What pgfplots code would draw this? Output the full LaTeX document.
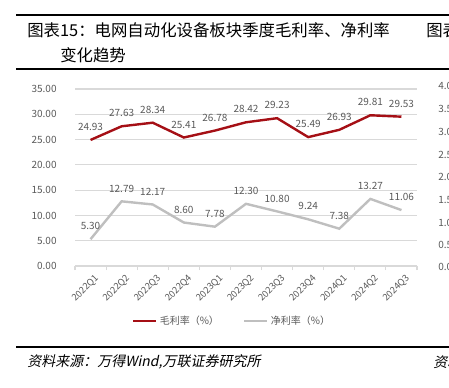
\documentclass[border=0pt]{standalone}
\usepackage{pgfplots}
\pgfplotsset{compat=1.18}
\usepackage{fontspec}
\setmainfont{Noto Sans CJK SC}
\newfontfamily\kai[FakeSlant=0.2]{Noto Sans CJK SC}
\definecolor{redl}{HTML}{A50F15}
\definecolor{grayl}{HTML}{BFBFBF}
\definecolor{gridc}{HTML}{D9D9D9}
\definecolor{txt}{HTML}{595959}
\begin{document}
\begin{tikzpicture}
\begin{scope}[x=0.75pt,y=-0.75pt]
\path[use as bounding box] (0,0) rectangle (449,387);
\draw[line width=1.6pt] (16,15) -- (449,15);
\draw[line width=1.6pt] (16,69) -- (449,69);
\draw[line width=1.6pt] (16,347) -- (449,347);
\node[anchor=west, inner sep=0, font=\fontsize{12.3}{14}\selectfont] at (27,30) {图表15：电网自动化设备板块季度毛利率、净利率};
\node[anchor=west, inner sep=0, font=\fontsize{12.3}{14}\selectfont] at (60,55) {变化趋势};
\node[anchor=west, inner sep=0, font=\fontsize{12.3}{14}\selectfont] at (426,30) {图表16};
\node[anchor=west, inner sep=0, font=\kai\fontsize{10.5}{12}\selectfont] at (27,362) {资料来源：万得Wind,万联证券研究所};
\node[anchor=west, inner sep=0, font=\kai\fontsize{10.5}{12}\selectfont] at (433,362) {资料来源};
\foreach \yy/\lab in {86/4.00,109/3.50,132/3.00,155/2.50,177/2.00,200/1.50,223/1.00,245/0.50,267/0.00}
  \node[anchor=west, inner sep=0, text=txt, font=\fontsize{7.5}{9}\selectfont] at (438,\yy) {\lab};
\end{scope}
\begin{axis}[
  at={(56.25pt,-199.5pt)}, anchor=south west, scale only axis,
  width=256.5pt, height=132.75pt,
  xmin=-0.5, xmax=10.5, ymin=0, ymax=35,
  separate axis lines,
  axis x line*=bottom, axis y line*=left,
  y axis line style={draw=none},
  x axis line style={gridc, line width=0.8pt},
  ytick={0,5,...,35},
  y tick style={draw=none},
  ymajorgrids, grid style={gridc, line width=0.8pt},
  xtick={0,...,10},
  xticklabels={2022Q1,2022Q2,2022Q3,2022Q4,2023Q1,2023Q2,2023Q3,2023Q4,2024Q1,2024Q2,2024Q3},
  x tick style={draw=none},
  minor xtick={-0.5,0.5,...,10.5},
  minor x tick style={draw=gridc, line width=0.8pt},
  tick align=outside, minor tick length=3pt,
  x tick label style={rotate=45, anchor=east, text=txt, font=\fontsize{7}{8}\selectfont, inner sep=1pt, yshift=-6pt, xshift=2pt},
  y tick label style={text=txt, font=\fontsize{7.5}{9}\selectfont, xshift=-6pt},
  yticklabel style={/pgf/number format/.cd, fixed, fixed zerofill, precision=2, assume math mode=true},
  nodes near coords,
  nodes near coords style={/pgf/number format/.cd, fixed, fixed zerofill, precision=2, assume math mode=true, /tikz/.cd, text=txt, font=\fontsize{7.5}{9}\selectfont, anchor=south, inner sep=0pt, yshift=6pt},
  legend columns=2,
  legend style={draw=none, fill=none, at={(0.46,-0.31)}, anchor=center, font=\fontsize{7.5}{9}\selectfont, text=txt, /tikz/every even column/.append style={column sep=16pt}},
  legend cell align=left,
]
\addplot[redl, line width=1.8pt] coordinates {(0,24.93) (1,27.63) (2,28.34) (3,25.41) (4,26.78) (5,28.42) (6,29.23) (7,25.49) (8,26.93) (9,29.81) (10,29.53)};
\addlegendentry{毛利率（\%）}
\addplot[grayl, line width=1.8pt] coordinates {(0,5.30) (1,12.79) (2,12.17) (3,8.60) (4,7.78) (5,12.30) (6,10.80) (7,9.24) (8,7.38) (9,13.27) (10,11.06)};
\addlegendentry{净利率（\%）}
\end{axis}
\end{tikzpicture}
\end{document}
